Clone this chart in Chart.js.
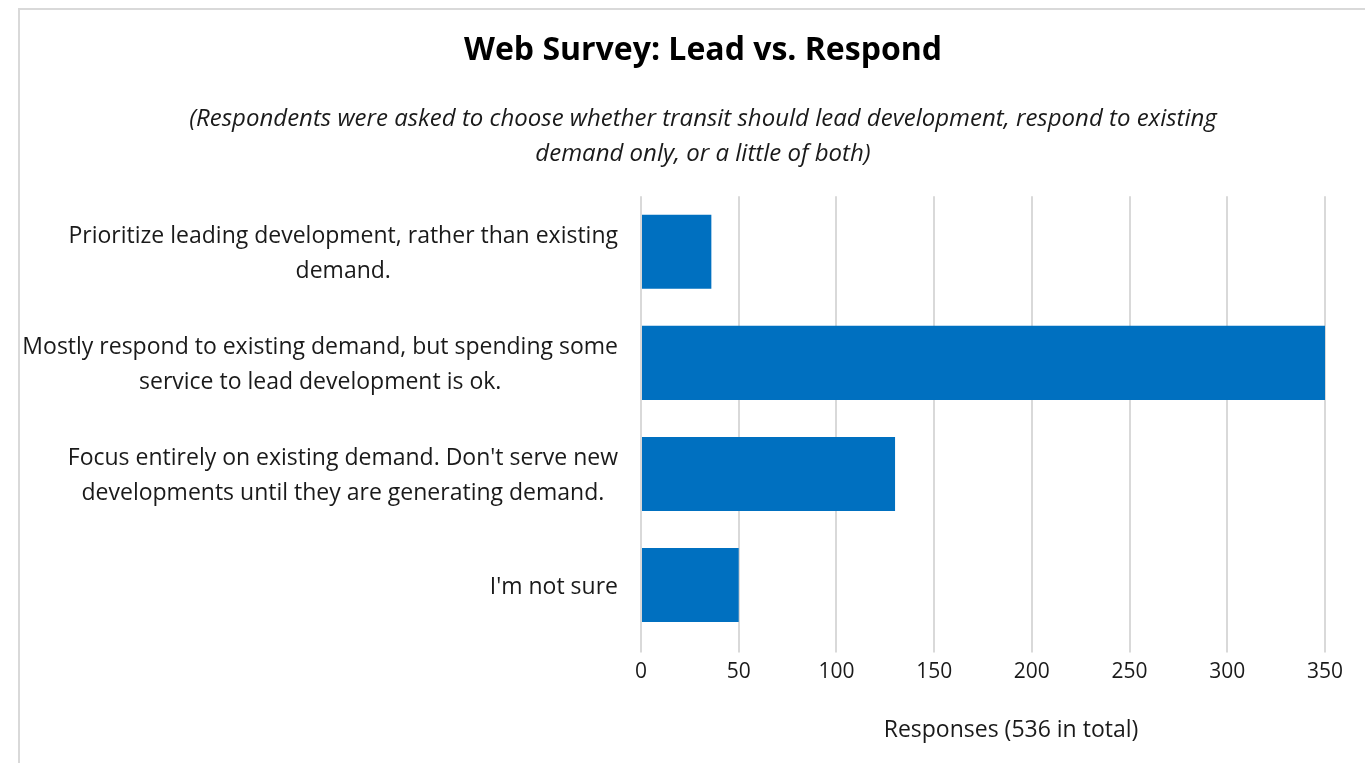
<!DOCTYPE html>
<html>
<head>
<meta charset="utf-8">
<title>Web Survey: Lead vs. Respond</title>
<script src="https://cdn.jsdelivr.net/npm/chart.js@4.4.0/dist/chart.umd.min.js"></script>
<style>
  html, body { margin:0; padding:0; background:#fff; }
  body { width:1365px; height:763px; overflow:hidden; position:relative; }
  .frame { position:absolute; left:18px; top:8px; width:1400px; height:800px; border-left:2px solid #d9d9d9; border-top:2px solid #d9d9d9; }
  #surveyChart { position:absolute; left:0; top:0; }
</style>
</head>
<body>
<div class="frame"></div>
<canvas id="surveyChart" width="1365" height="763"></canvas>
<script>
// data
const categories = [
  ['Prioritize leading development, rather than existing', 'demand.'],
  ['Mostly respond to existing demand, but spending some', 'service to lead development is ok.'],
  ["Focus entirely on existing demand. Don't serve new", 'developments until they are generating demand.'],
  ["I'm not sure"]
];
const responses = [36, 350, 130, 50];
const xTicks = [0, 50, 100, 150, 200, 250, 300, 350];

const FONT = '"Open Sans", Lato, sans-serif';
const xTitle = 'Responses (536 in total)';

// draws the category labels (block right-aligned, lines centered) and axis title
const labelPlugin = {
  id: 'labelPlugin',
  afterDraw(chart) {
    const ctx = chart.ctx, y = chart.scales.y, area = chart.chartArea;
    ctx.save();
    ctx.fillStyle = '#1a1a1a';
    ctx.font = '23px ' + FONT;
    ctx.textBaseline = 'middle';
    ctx.textAlign = 'center';
    const lh = 34.5;
    categories.forEach((lines, i) => {
      const w = Math.max(...lines.map(l => ctx.measureText(l).width));
      const cx = area.left - 23 - w / 2;
      const yc = y.getPixelForValue(i) + 2;
      lines.forEach((ln, j) => ctx.fillText(ln, cx, yc + (j - (lines.length - 1) / 2) * lh));
    });
    ctx.font = '23px ' + FONT;
    ctx.fillText(xTitle, (area.left + area.right) / 2 + 28, 730);
    ctx.restore();
  }
};

new Chart(document.getElementById('surveyChart'), {
  type: 'bar',
  data: {
    labels: categories,
    datasets: [{ data: responses, backgroundColor: '#0070c0', borderWidth: 0, categoryPercentage: 1, barPercentage: 0.667 }]
  },
  options: {
    indexAxis: 'y',
    responsive: false,
    animation: false,
    devicePixelRatio: 1,
    layout: { padding: { left: 81, right: 40, top: 0, bottom: 11 } },
    plugins: {
      legend: { display: false },
      tooltip: { enabled: false },
      title: { display: true, text: 'Web Survey: Lead vs. Respond', color: '#000', font: { family: FONT, size: 32, weight: 'bold', lineHeight: 1.1 }, padding: { top: 33, bottom: 33 } },
      subtitle: { display: true, text: ['(Respondents were asked to choose whether transit should lead development, respond to existing', 'demand only, or a little of both)'], color: '#1a1a1a', font: { family: FONT, size: 24, style: 'italic', lineHeight: 1.46 }, padding: { top: 0, bottom: 25 } }
    },
    scales: {
      x: {
        min: 0, max: 350,
        afterBuildTicks: s => { s.ticks = xTicks.map(v => ({ value: v })); },
        grid: { color: '#d9d9d9', lineWidth: 2, tickLength: 12 },
        border: { display: false },
        ticks: { color: '#1a1a1a', font: { family: FONT, size: 21 }, padding: 7, maxRotation: 0 },
        title: { display: true, text: xTitle, color: 'rgba(0,0,0,0)', font: { family: FONT, size: 21 }, padding: { top: 31, bottom: 4 } }
      },
      y: {
        grid: { display: false },
        border: { display: false },
        ticks: { display: false },
        afterFit: s => { s.width = 560; }
      }
    }
  },
  plugins: [labelPlugin]
});
</script>
</body>
</html>
